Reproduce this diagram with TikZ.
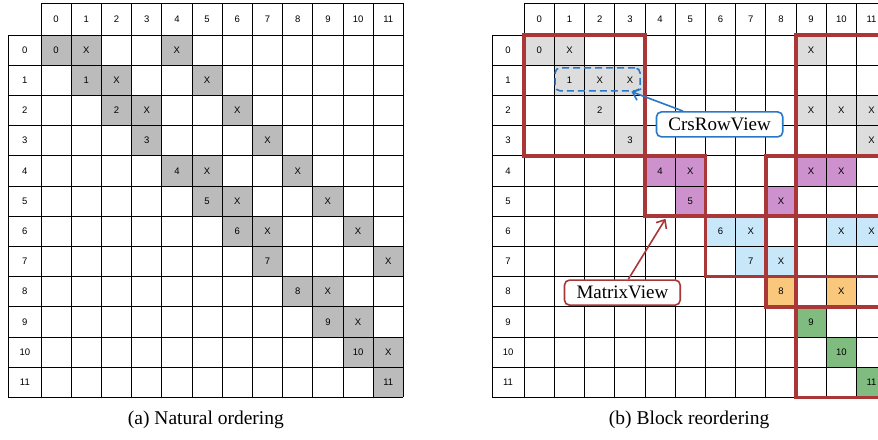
\documentclass[tikz,border=0pt]{standalone}
\usepackage{fontspec}
\setmainfont{Liberation Serif}
\setsansfont{Liberation Sans}
\usetikzlibrary{arrows.meta, positioning}

\definecolor{blockred}{RGB}{170,55,55}
\definecolor{viewblue}{RGB}{40,120,200}
\definecolor{natgray}{RGB}{187,187,187}
\definecolor{blkgray}{RGB}{221,221,221}
\definecolor{blkpurple}{RGB}{205,145,205}
\definecolor{blkblue}{RGB}{200,232,250}
\definecolor{blkorange}{RGB}{250,200,125}
\definecolor{blkgreen}{RGB}{128,188,128}

\begin{document}
\begin{tikzpicture}[x=30.2pt, y=-30.2pt,
    entry/.style={minimum width=30.2pt, minimum height=30.2pt, inner sep=0pt, font=\sffamily\fontsize{9.5}{11}\selectfont},
    idx/.style={font=\sffamily\fontsize{9.5}{11}\selectfont},
    gridline/.style={line width=0.75pt},
    blockbox/.style={draw=blockred, line width=3.5pt, inner sep=0pt, outer sep=0pt},
    viewlabel/.style={rounded corners=5pt, line width=1.6pt, fill=white, minimum height=25pt, inner xsep=12pt, font=\fontsize{19}{22}\selectfont},
    viewarrow/.style={line width=1.6pt, -{Straight Barb[length=7pt,width=12pt]}},
    caption/.style={font=\fontsize{19.5}{23}\selectfont, anchor=base}]

    \useasboundingbox (-1.358,-1.159) rectangle (27.715,13.38);

    % Nonzeros, natural ordering
    \foreach \r/\c/\t in {0/0/0, 0/1/X, 0/4/X, 1/1/1, 1/2/X, 1/5/X, 2/2/2, 2/3/X, 2/6/X, 3/3/3, 3/7/X,
                          4/4/4, 4/5/X, 4/8/X, 5/5/5, 5/6/X, 5/9/X, 6/6/6, 6/7/X, 6/10/X, 7/7/7, 7/11/X,
                          8/8/8, 8/9/X, 9/9/9, 9/10/X, 10/10/10, 10/11/X, 11/11/11}
        \node[entry, fill=natgray] (a-\r-\c) at (\c+0.5,\r+0.5) {\t};

    % Nonzeros, block reordering
    \foreach \r/\c/\t/\col in {0/0/0/blkgray, 0/1/X/blkgray, 0/9/X/blkgray, 1/1/1/blkgray, 1/2/X/blkgray,
                               1/3/X/blkgray, 2/2/2/blkgray, 2/9/X/blkgray, 2/10/X/blkgray, 2/11/X/blkgray,
                               3/3/3/blkgray, 3/11/X/blkgray, 4/4/4/blkpurple, 4/5/X/blkpurple,
                               4/9/X/blkpurple, 4/10/X/blkpurple, 5/5/5/blkpurple, 5/8/X/blkpurple,
                               6/6/6/blkblue, 6/7/X/blkblue, 6/10/X/blkblue, 6/11/X/blkblue, 7/7/7/blkblue,
                               7/8/X/blkblue, 8/8/8/blkorange, 8/10/X/blkorange, 9/9/9/blkgreen,
                               10/10/10/blkgreen, 11/11/11/blkgreen}
        \node[entry, fill=\col] (b-\r-\c) at (16+\c+0.5,\r+0.5) {\t};

    % Grids with row and column indices
    \foreach \ox/\m in {0/a, 16/b} {
        \foreach \i in {0,...,12} {
            \draw[gridline] (\ox+\i,0) -- (\ox+\i,12);
            \draw[gridline] (\ox,\i) -- (\ox+12,\i);
        }
        \foreach \i in {0,...,11} {
            \draw[gridline] (\ox+\i,-1.06) rectangle (\ox+\i+1,0);
            \draw[gridline] (\ox-1.07,\i) rectangle (\ox,\i+1);
            \node[idx] (\m-col\i) at (\ox+\i+0.5,-0.53) {\i};
            \node[idx] (\m-row\i) at (\ox-0.535,\i+0.5) {\i};
        }
    }

    % Nonzero blocks
    \foreach \ra/\rb/\ca/\cb in {0/4/0/4, 0/4/9/12, 4/6/4/6, 4/6/8/9, 4/6/9/12, 6/8/6/8, 6/8/8/9,
                                 6/8/9/12, 8/9/8/9, 8/9/9/12, 9/12/9/12}
        \node[blockbox, minimum width={(\cb-\ca)*30.2pt}, minimum height={(\rb-\ra)*30.2pt}]
            (blk-\ra-\ca) at (16+\ca/2+\cb/2,\ra/2+\rb/2) {};

    % Views
    \node[draw=viewblue, dash pattern=on 7pt off 4pt, line width=1.6pt, rounded corners=5pt,
          minimum width=85pt, minimum height=23pt, inner sep=0pt] (crsrow) at (18.43,1.47) {};
    \node[viewlabel, draw=viewblue] (crs) at (22.47,2.96) {CrsRowView};
    \node[viewlabel, draw=blockred] (mv) at (19.25,8.53) {MatrixView};

    \draw[viewarrow, viewblue] (crs.160) -- (crsrow.-20);
    \draw[viewarrow, blockred, shorten >=3pt] (mv.66) -- (blk-4-4.-105);

    % Captions
    \node[caption] (capa) at (5.46,12.90) {(a) Natural ordering};
    \node[caption] (capb) at (21.46,12.90) {(b) Block reordering};
\end{tikzpicture}
\end{document}
